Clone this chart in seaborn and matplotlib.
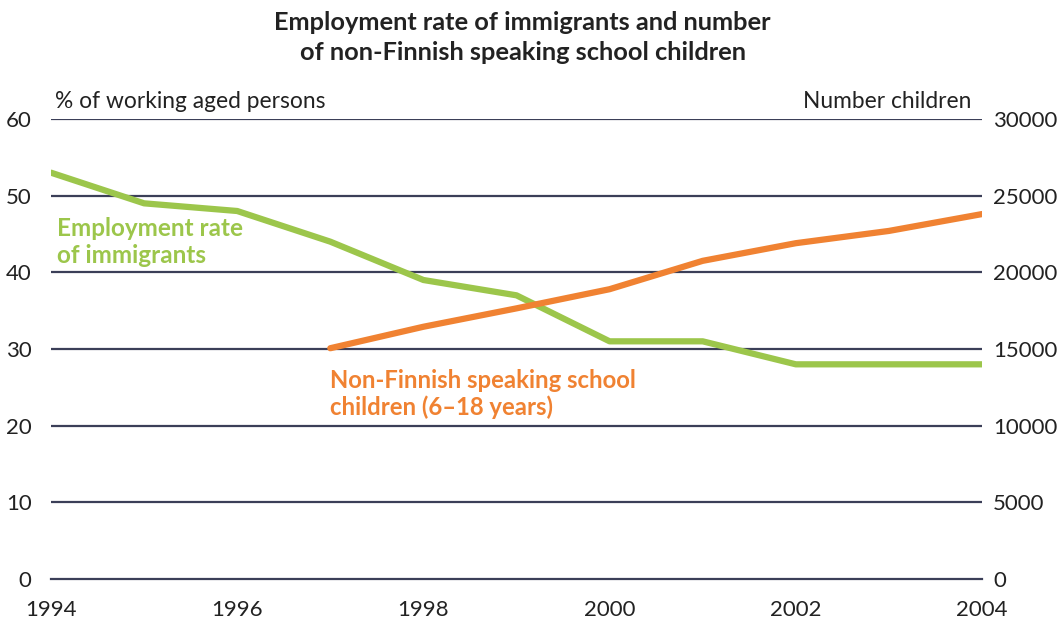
import pandas as pd
import seaborn as sns
import matplotlib.pyplot as plt

# Data
years = [1994, 1995, 1996, 1997, 1998, 1999, 2000, 2001, 2002, 2003, 2004]
employment_rate = [53, 49, 48, 44, 39, 37, 31, 31, 28, 28, 28]

child_years = [1997, 1998, 1999, 2000, 2001, 2002, 2003, 2004]
children = [15050, 16450, 17650, 18900, 20750, 21900, 22700, 23800]

left_ticks = [0, 10, 20, 30, 40, 50, 60]
right_ticks = [0, 5000, 10000, 15000, 20000, 25000, 30000]
x_ticks = [1994, 1996, 1998, 2000, 2002, 2004]

green = "#9cc64b"
orange = "#f08232"
grid_col = "#3b3f58"

emp = pd.DataFrame({"year": years, "rate": employment_rate})
kids = pd.DataFrame({"year": child_years, "children": children})

sns.set_style("white")
plt.rcParams["font.family"] = ["Lato", "DejaVu Sans"]

fig = plt.figure(figsize=(10.62, 6.27), dpi=100)
ax = fig.add_axes([0.048, 0.0766, 0.8767, 0.7336])
ax2 = ax.twinx()

# gridlines
for v in left_ticks[1:]:
    ax.axhline(v, color=grid_col, lw=1.6, zorder=1)

sns.lineplot(data=emp, x="year", y="rate", ax=ax, color=green, lw=4.5,
             solid_capstyle="round", zorder=3)
sns.lineplot(data=kids, x="year", y="children", ax=ax2, color=orange, lw=4.5,
             solid_capstyle="round", zorder=3)

ax.set_xlim(1994, 2004)
ax.set_ylim(0, 60)
ax2.set_ylim(0, 30000)
ax.set_xticks(x_ticks)
ax.set_yticks(left_ticks)
ax2.set_yticks(right_ticks)
ax.set_xlabel("")
ax.set_ylabel("")
ax2.set_ylabel("")

for a in (ax, ax2):
    for s in ["top", "left", "right", "bottom"]:
        a.spines[s].set_visible(False)
    a.set_facecolor("none")
ax.spines["bottom"].set_visible(True)
ax.spines["bottom"].set_color(grid_col)
ax.spines["bottom"].set_linewidth(1.6)

ax.tick_params(axis="x", direction="out", length=10, width=1.2, color=grid_col,
               labelsize=16, pad=5, labelcolor="#222222")
ax.tick_params(axis="y", length=0, labelsize=16, pad=14, labelcolor="#222222")
ax2.tick_params(axis="y", length=0, labelsize=16, pad=8, labelcolor="#222222")

fig.text(0.492, 0.982, "Employment rate of immigrants and number\nof non-Finnish speaking school children",
         ha="center", va="top", fontsize=18.3, fontweight="bold", color="#222222",
         linespacing=1.35)
fig.text(0.052, 0.822, "% of working aged persons", ha="left", va="bottom",
         fontsize=16.4, color="#222222")
fig.text(0.915, 0.822, "Number children", ha="right", va="bottom",
         fontsize=16.4, color="#222222")

ax.text(1994.06, 47.2, "Employment rate\nof immigrants", ha="left", va="top",
        fontsize=17.5, fontweight="bold", color=green, linespacing=1.2)
ax.text(1997.0, 27.4, "Non-Finnish speaking school\nchildren (6\u201318 years)",
        ha="left", va="top", fontsize=17.2, fontweight="bold", color=orange,
        linespacing=1.2)

fig.savefig("out.png", dpi=100)
